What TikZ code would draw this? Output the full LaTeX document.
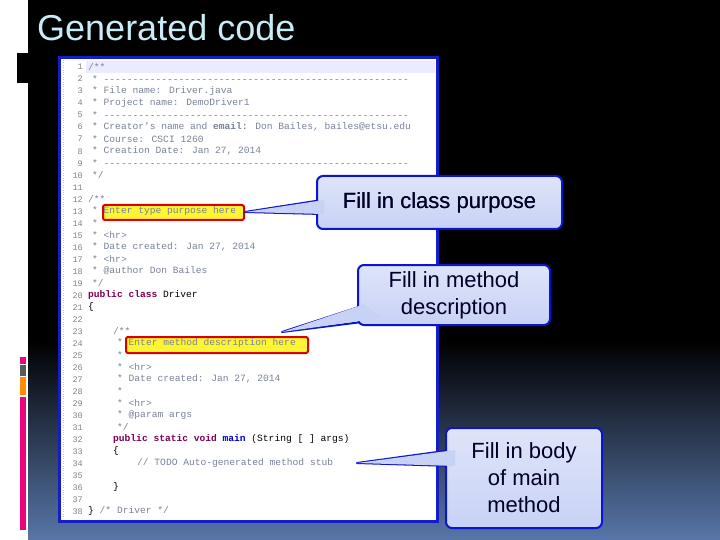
\documentclass[tikz,border=0pt]{standalone}
\usepackage{fontspec}
\setmainfont{Liberation Sans}
\newfontfamily\codefont{Liberation Mono}
\definecolor{panelblue}{RGB}{20,30,200}
\definecolor{calloutfill}{RGB}{200,210,245}
\definecolor{calloutline}{RGB}{10,20,210}
\definecolor{cmt}{RGB}{120,130,150}
\definecolor{kw}{RGB}{127,0,85}
\definecolor{lnum}{RGB}{130,130,130}
\definecolor{titlec}{RGB}{200,235,245}
\definecolor{bgblue}{RGB}{88,118,168}
\tikzset{
  codeline/.style={anchor=west,inner sep=0pt,font=\codefont\fontsize{9.6}{10}\selectfont,text=cmt},
  numline/.style={anchor=east,inner sep=0pt,font=\codefont\fontsize{8.5}{9}\selectfont,text=lnum},
  callout/.style={draw=calloutline,line width=2pt,rounded corners=6pt,top color=calloutfill!60!white,bottom color=calloutfill,align=center,font=\fontsize{22}{27}\selectfont,text=black!85!blue,inner sep=0pt},
  ptr/.style={draw=calloutline,line width=2pt,line join=round},
  ptrfill/.style={fill=calloutfill},
  hl/.style={draw=red!85!black,line width=2pt,fill=yellow!80!white,rounded corners=2pt}
}
\begin{document}
\begin{tikzpicture}[x=1pt,y=-1pt]
\useasboundingbox (0,0) rectangle (720,540);
% background
\fill[white] (0,0) rectangle (720,540);
\fill[black] (28,0) rectangle (720,340);
\shade[top color=black,bottom color=bgblue] (28,340) rectangle (720,540);
\fill[black] (17,53) rectangle (28,83);
\fill[magenta!85!red] (20,357) rectangle (26,364);
\fill[gray!70!black] (20,365) rectangle (26,376);
\fill[orange!90!yellow] (20,377) rectangle (26,395);
\fill[magenta!85!red] (20,397) rectangle (26,530);
\node[anchor=west,inner sep=0pt,text=titlec,font=\fontsize{36}{40}\selectfont] (title) at (37,28) {Generated code};
% panel
\node[draw=panelblue,line width=3pt,fill=white,minimum width=378pt,minimum height=464pt,anchor=north west,inner sep=0pt] (panel) at (58,56) {};
\fill[blue!8] (86,61) rectangle (435,73);
\draw[lnum!50,dotted] (63,60) -- (63,518);
% highlights
\node[hl,minimum width=141pt,minimum height=15pt,anchor=north west] (h1) at (102,204) {};
\node[hl,minimum width=182pt,minimum height=16pt,anchor=north west] (h2) at (125,336) {};
% line numbers
\foreach \i in {1,...,38}{
  \node[numline] (n\i) at (83,{67+(\i-1)*12.03}) {\i};
}
\def\dashes{-----------------------------------------------------}
\begin{scope}
\clip (60,58) rectangle (435,518);
\node[codeline] (c1) at (88,67) {/**};
\node[codeline] (c2) at (92,79) {* \dashes};
\node[codeline] (c3) at (92,91) {* File name: Driver.java};
\node[codeline] (c4) at (92,103) {* Project name: DemoDriver1};
\node[codeline] (c5) at (92,115) {* \dashes};
\node[codeline] (c6) at (92,127) {* Creator's name and \textbf{email:} Don Bailes, bailes@etsu.edu};
\node[codeline] (c7) at (92,139) {* Course:  CSCI 1260};
\node[codeline] (c8) at (92,151) {* Creation Date: Jan 27, 2014};
\node[codeline] (c9) at (92,163) {* \dashes};
\node[codeline] (c10) at (92,175) {*/};
\node[codeline] (c12) at (88,199) {/**};
\node[codeline] (c13) at (92,211) {* Enter type purpose here};
\node[codeline] (c14) at (92,223) {*};
\node[codeline] (c15) at (92,235) {* <hr>};
\node[codeline] (c16) at (92,247) {* Date created: Jan 27, 2014};
\node[codeline] (c17) at (92,259) {* <hr>};
\node[codeline] (c18) at (92,271) {* @author Don Bailes};
\node[codeline] (c19) at (92,283) {*/};
\node[codeline,text=black] (c20) at (88,295) {\textbf{\textcolor{kw}{public class}} Driver};
\node[codeline,text=black] (c21) at (88,307) {\{};
\node[codeline] (c23) at (113,331) {/**};
\node[codeline] (c24) at (117,343) {* Enter method description here};
\node[codeline] (c25) at (117,355) {*};
\node[codeline] (c26) at (117,367) {* <hr>};
\node[codeline] (c27) at (117,379) {* Date created: Jan 27, 2014};
\node[codeline] (c28) at (117,391) {*};
\node[codeline] (c29) at (117,403) {* <hr>};
\node[codeline] (c30) at (117,415) {* @param args};
\node[codeline] (c31) at (117,427) {*/};
\node[codeline,text=black] (c32) at (113,439) {\textbf{\textcolor{kw}{public static void} \textcolor{blue!80!black}{main}} (String [ ] args)};
\node[codeline,text=black] (c33) at (113,451) {\{};
\node[codeline] (c34) at (137,463) {// TODO Auto-generated method stub};
\node[codeline,text=black] (c36) at (113,487) {\}};
\node[codeline,text=black] (c38) at (88,511) {\} \textcolor{cmt}{/* Driver */}};
\end{scope}
% callouts
\coordinate (t1) at (245,212);
\coordinate (t2) at (282,332);
\coordinate (t3) at (357,463);
\draw[ptr] (t1) -- (322,200) -- (322,214) -- cycle;
\draw[ptr] (t2) -- (362,306) -- (378,320) -- cycle;
\draw[ptr] (t3) -- (452,450) -- (452,466) -- cycle;
\node[callout,minimum width=245pt,minimum height=53pt,anchor=north west] (b1) at (316,175) {Fill in class purpose};
\node[callout,minimum width=192pt,minimum height=60pt,anchor=north west] (b2) at (357,264) {Fill in method\\description};
\node[callout,minimum width=156pt,minimum height=100pt,anchor=north west] (b3) at (445,427) {Fill in body\\of main\\method};
\fill[ptrfill] (t1) -- (324,200) -- (324,214) -- cycle;
\fill[ptrfill] (t2) -- (365,304) -- (381,318) -- cycle;
\fill[ptrfill] (t3) -- (455,450) -- (455,466) -- cycle;
\node[font=\fontsize{22}{27}\selectfont,text=black!85!blue] at (b1.center) {Fill in class purpose};
\end{tikzpicture}
\end{document}
